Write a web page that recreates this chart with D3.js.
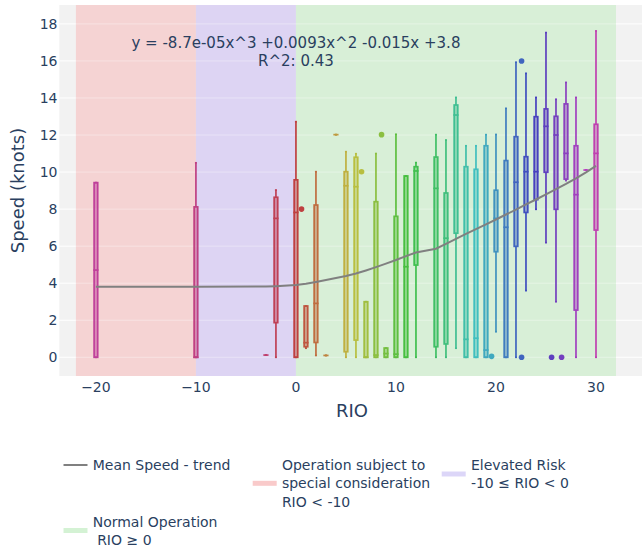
<!DOCTYPE html>
<html>
<head>
<meta charset="utf-8">
<script src="https://cdn.jsdelivr.net/npm/d3@7"></script>
<style>
  body { margin: 0; background: #fff; }
  svg { display: block; }
  text { font-family: "DejaVu Sans", Verdana, sans-serif; fill: #2a3f5f; }
</style>
</head>
<body>
<div id="chart"></div>
<script>
// box statistics per RIO value (speed in knots)
const rio        = [-20, -10, -3, -2, 0, 1, 2, 3, 4, 5, 6, 7, 8, 9, 10, 11, 12, 14, 15, 16, 17, 18, 19, 20, 21, 22, 23, 24, 25, 26, 27, 28, 29, 30];
const lowerFence = [0, 0, 0.12, 0, 0, 0.49, 0.1, 0.1, 12.02, 0, 0, 0, 0, 0, 0, 0, 0, 0, 0, 0.49, 0, 0, 0, 1.38, 0, 0, 3.6, 7.99, 6.19, 3.0, 9.54, 0, 10.11, 0];
const q1         = [0, 0, 0.12, 1.87, 0, 0.57, 0.8, 0.1, 12.02, 0.3, 0.93, 0, 0, 0, 0, 0, 4.98, 0.57, 0.72, 6.7, 0, 0, 0, 5.7, 0, 5.99, 7.82, 8.51, 9.99, 7.99, 9.62, 2.55, 10.11, 6.87];
const median     = [4.71, 0, 0.12, 7.5, 7.82, 0.79, 2.91, 0.1, 12.02, 9.26, 9.21, 0, 0.12, 0.2, 0.17, 4.89, 10.06, 9.12, 6.43, 13.08, 0.97, 1.03, 0.39, 7.5, 7.02, 9.45, 10.02, 10.02, 12.47, 12.0, 11.01, 8.78, 10.11, 11.01];
const q3         = [9.43, 8.12, 0.12, 8.64, 9.58, 2.77, 8.22, 0.1, 12.02, 10.02, 10.8, 3.0, 8.4, 0.5, 7.61, 9.79, 10.29, 10.81, 8.87, 13.62, 10.29, 10.15, 11.42, 9.02, 10.62, 11.91, 10.83, 12.99, 13.41, 13.01, 13.68, 11.42, 10.11, 12.58];
const upperFence = [9.43, 10.5, 0.12, 9.03, 12.72, 2.77, 10.02, 0.1, 12.02, 11.1, 10.99, 3.0, 11.0, 0.5, 12.04, 9.79, 10.51, 12.02, 11.73, 14.03, 11.42, 11.42, 12.02, 12.03, 13.44, 15.93, 15.33, 14.03, 17.53, 13.93, 14.84, 14.03, 10.11, 17.62];

// outliers
const outlierRio   = [0, 6, 8, 19, 22, 22, 25, 26];
const outlierSpeed = [8.0, 10.02, 12.02, 0.05, 16.0, 0, 0, 0];

// mean speed trend
const trendSpeed = [3.81, 3.81, 3.82, 3.84, 3.9, 3.97, 4.07, 4.17, 4.28, 4.39, 4.52, 4.69, 4.87, 5.06, 5.25, 5.46, 5.66, 5.86, 6.12, 6.39, 6.66, 6.92, 7.18, 7.44, 7.71, 7.97, 8.25, 8.52, 8.8, 9.08, 9.36, 9.66, 9.98, 10.33];

// risk zones
const zoneNames = ["Operation subject to\nspecial consideration\nRIO < -10", "Elevated Risk\n-10 \u2264 RIO < 0", "Normal Operation\n RIO \u2265 0"];
const zoneFrom  = [-22, -10, 0];
const zoneTo    = [-10, 0, 32];

const xTicks = [-20, -10, 0, 10, 20, 30];
const yTicks = [0, 2, 4, 6, 8, 10, 12, 14, 16, 18];

const fitLines = ["y = -8.7e-05x^3 +0.0093x^2 -0.015x +3.8", "R^2: 0.43"];

const W = 642, H = 550;
const plot = { left: 59.3, top: 5, right: 645, bottom: 376 };

const svg = d3.select("#chart").append("svg").attr("width", W).attr("height", H);

const x = d3.scaleLinear().domain([-23.66, 34.9]).range([plot.left, plot.right]);
const y = d3.scaleLinear().domain([-1.01, 19.02]).range([plot.bottom, plot.top]);

const zoneFill = ["#f5d3d3", "#ddd4f3", "#d8efd7"];
const zoneLegend = ["#f9caca", "#dcd6f8", "#d4f2d4"];

// background
svg.append("rect").attr("x", plot.left).attr("y", plot.top)
  .attr("width", plot.right - plot.left).attr("height", plot.bottom - plot.top)
  .attr("fill", "#f2f2f2");

const grid = svg.append("g");
yTicks.forEach(t => {
  grid.append("line").attr("x1", plot.left).attr("x2", plot.right)
    .attr("y1", y(t)).attr("y2", y(t)).attr("stroke", "#fff").attr("stroke-width", 1);
});

// zones
zoneFrom.forEach((z, i) => {
  svg.append("rect").attr("x", x(z)).attr("y", plot.top)
    .attr("width", x(zoneTo[i]) - x(z)).attr("height", plot.bottom - plot.top)
    .attr("fill", zoneFill[i]);
});
// faint grid over zones
yTicks.forEach(t => {
  svg.append("line").attr("x1", x(zoneFrom[0])).attr("x2", x(zoneTo[2]))
    .attr("y1", y(t)).attr("y2", y(t)).attr("stroke", "#fff").attr("stroke-opacity", 0.35);
});

// box colours: hue sweep, non-negative RIO first, then the negative ones
const nonNeg = rio.filter(r => r >= 0), neg = rio.filter(r => r < 0);
function boxColor(r, a) {
  const idx = r >= 0 ? nonNeg.indexOf(r) : nonNeg.length + neg.indexOf(r);
  const c = d3.hsl(idx * 360 / 34, 0.5, 0.5);
  c.opacity = a;
  return c.toString();
}

const bw = 3.6;
const boxes = svg.append("g");
rio.forEach((r, i) => {
  const cx = x(r), col = boxColor(r, 1), g = boxes.append("g");
  // whiskers
  g.append("line").attr("x1", cx).attr("x2", cx).attr("y1", y(q3[i])).attr("y2", y(upperFence[i]))
    .attr("stroke", col).attr("stroke-width", 1.7);
  g.append("line").attr("x1", cx).attr("x2", cx).attr("y1", y(q1[i])).attr("y2", y(lowerFence[i]))
    .attr("stroke", col).attr("stroke-width", 1.7);
  [upperFence[i], lowerFence[i]].forEach(v => {
    g.append("line").attr("x1", cx - 1).attr("x2", cx + 1).attr("y1", y(v)).attr("y2", y(v))
      .attr("stroke", col).attr("stroke-width", 1.7);
  });
  g.append("rect").attr("x", cx - bw / 2).attr("y", y(q3[i]))
    .attr("width", bw).attr("height", Math.max(0, y(q1[i]) - y(q3[i])))
    .attr("fill", boxColor(r, 0.5)).attr("stroke", col).attr("stroke-width", 1.7);
  g.append("line").attr("x1", cx - bw / 2 - 0.8).attr("x2", cx + bw / 2 + 0.8)
    .attr("y1", y(median[i])).attr("y2", y(median[i]))
    .attr("stroke", col).attr("stroke-width", 1.7);
});

outlierRio.forEach((r, i) => {
  svg.append("circle").attr("cx", x(r) + 5.6).attr("cy", y(outlierSpeed[i])).attr("r", 2.8)
    .attr("fill", boxColor(r, 1));
});

// trend line
const line = d3.line().x((d, i) => x(rio[i])).y(d => y(d));
svg.append("path").datum(trendSpeed).attr("d", line)
  .attr("fill", "none").attr("stroke", "#808080").attr("stroke-width", 2);

// fit annotation
const ann = svg.append("text").attr("text-anchor", "middle").style("font-size", "15px");
fitLines.forEach((s, k) => {
  ann.append("tspan").attr("x", x(0)).attr("y", 48 + k * 17.5).text(s);
});

// axes labels
yTicks.forEach(t => {
  svg.append("text").attr("x", 57.5).attr("y", y(t)).attr("dy", "0.36em")
    .attr("text-anchor", "end").style("font-size", "14px").text(t);
});
xTicks.forEach(t => {
  svg.append("text").attr("x", x(t)).attr("y", 392)
    .attr("text-anchor", "middle").style("font-size", "14px").text(d3.format("")(t).replace("-", "\u2212"));
});
svg.append("text").attr("x", 352).attr("y", 417).attr("text-anchor", "middle")
  .style("font-size", "18px").text("RIO");
svg.append("text").attr("transform", "translate(23.5," + ((plot.top + plot.bottom) / 2) + ") rotate(-90)")
  .attr("text-anchor", "middle").style("font-size", "18px").text("Speed (knots)");

// legend
const leg = svg.append("g").style("font-size", "14px");
function legendItem(x0, ySym, yText, color, width, label) {
  leg.append("line").attr("x1", x0).attr("x2", x0 + 24).attr("y1", ySym).attr("y2", ySym)
    .attr("stroke", color).attr("stroke-width", width);
  const t = leg.append("text").attr("xml:space", "preserve").style("white-space", "pre");
  label.split("\n").forEach((s, k) => {
    t.append("tspan").attr("x", x0 + 29.2).attr("y", yText + k * 18.3).attr("dy", "0.36em").text(s);
  });
}
legendItem(63.5, 465, 465, "#808080", 2, "Mean Speed - trend");
legendItem(252.7, 483.3, 465, zoneLegend[0], 5, zoneNames[0]);
legendItem(441.7, 474, 465, zoneLegend[1], 5, zoneNames[1]);
legendItem(63.5, 530.5, 521.7, zoneLegend[2], 5, zoneNames[2]);
</script>
</body>
</html>
